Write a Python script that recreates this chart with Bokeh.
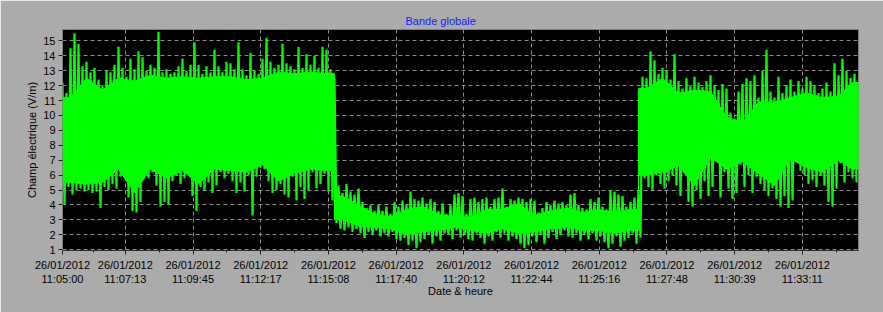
import numpy as np
from bokeh.plotting import figure
from bokeh.models import Range1d, FixedTicker
from bokeh.embed import file_html
from bokeh.resources import INLINE

title_text = "Bande globale"
x_label = "Date & heure"
y_label = "Champ électrique (V/m)"

tick_date = "26/01/2012"
tick_times = ["11:05:00", "11:07:13", "11:09:45", "11:12:17", "11:15:08", "11:17:40",
              "11:20:12", "11:22:44", "11:25:16", "11:27:48", "11:30:39", "11:33:11"]
tick_samples = [0, 141, 293, 445, 597, 749, 901, 1053, 1205, 1357, 1509, 1661]
minor_samples = [70, 217, 369, 521, 673, 825, 977, 1129, 1281, 1433, 1585, 1737]
n_samples = 1787
y_ticks = list(range(1, 16))

# upper and lower excursions of the field, one pair per block of 9 samples
field_hi = [
    12.2, 11.5, 14.5, 15.5, 14.8, 13.3, 13.6, 12.9, 13.2, 12.4,
    12.0, 13.0, 12.9, 13.4, 14.6, 13.2, 12.6, 13.8, 13.1, 14.3,
    13.9, 13.0, 13.4, 13.2, 15.6, 12.9, 13.1, 12.8, 12.9, 13.3,
    13.8, 13.0, 13.4, 14.9, 13.4, 12.8, 13.3, 12.9, 14.4, 13.3,
    12.9, 13.6, 13.5, 13.1, 14.9, 13.1, 12.7, 14.2, 13.0, 12.8,
    13.8, 15.2, 13.6, 13.2, 13.4, 14.8, 13.5, 13.3, 13.1, 14.6,
    13.2, 14.1, 13.4, 14.0, 13.2, 14.6, 14.4, 13.1, 12.5, 5.3,
    4.8, 5.4, 4.9, 4.7, 5.1, 4.2, 3.8, 4.0, 3.6, 4.0,
    3.6, 3.9, 3.4, 4.2, 3.9, 4.3, 4.0, 4.9, 4.4, 4.3,
    4.5, 4.1, 4.4, 4.2, 3.6, 4.1, 3.4, 4.0, 4.7, 4.8,
    4.6, 3.4, 4.4, 4.5, 4.2, 4.4, 4.5, 3.9, 4.4, 4.5,
    5.1, 3.9, 4.4, 4.3, 4.5, 4.4, 4.2, 4.4, 4.3, 3.5,
    3.8, 4.2, 4.0, 4.3, 4.1, 4.2, 4.0, 4.7, 4.8, 4.0,
    3.8, 3.7, 4.4, 4.2, 4.5, 3.9, 3.7, 5.0, 4.9, 4.7,
    4.6, 3.9, 4.2, 4.5, 5.0, 12.6, 12.5, 14.3, 13.7, 12.8,
    13.2, 13.0, 12.4, 14.1, 12.3, 11.8, 12.5, 12.0, 12.6, 12.2,
    11.9, 12.3, 12.7, 12.0, 11.7, 12.1, 11.8, 10.2, 9.8, 11.6,
    12.1, 12.5, 12.3, 12.7, 11.2, 13.0, 14.4, 11.6, 11.2, 12.6,
    11.5, 12.0, 12.4, 11.6, 12.3, 11.8, 12.6, 12.3, 12.0, 11.5,
    11.8, 12.2, 11.6, 13.5, 12.7, 13.8, 13.0, 12.5, 12.8,
]
field_lo = [
    4.0, 5.2, 4.7, 5.0, 5.1, 4.9, 5.0, 4.8, 4.9, 3.8,
    5.2, 5.0, 5.4, 5.1, 5.9, 6.2, 4.5, 3.6, 3.5, 4.2,
    6.1, 5.8, 6.2, 5.3, 3.9, 4.2, 4.0, 5.6, 6.0, 5.4,
    5.8, 6.1, 4.6, 3.6, 5.2, 5.0, 5.5, 4.8, 5.3, 6.2,
    5.8, 6.1, 5.6, 4.8, 5.5, 4.9, 6.0, 3.3, 5.9, 6.5,
    6.4, 5.6, 4.8, 5.0, 5.4, 4.7, 4.5, 5.9, 4.3, 5.2,
    4.4, 5.0, 6.2, 5.1, 5.4, 6.1, 4.9, 4.3, 2.8, 2.4,
    2.3, 2.5, 2.2, 2.4, 2.1, 1.8, 2.2, 2.0, 2.3, 1.9,
    2.1, 1.9, 2.2, 1.7, 1.6, 1.8, 1.3, 1.6, 1.1, 1.5,
    1.7, 2.0, 1.4, 1.9, 1.6, 2.1, 2.0, 1.7, 2.3, 1.8,
    2.0, 1.7, 1.6, 2.1, 1.8, 1.4, 1.9, 1.6, 2.2, 1.8,
    2.1, 1.6, 1.9, 1.7, 1.4, 1.1, 1.3, 1.9, 1.5, 2.0,
    1.4, 1.8, 2.2, 1.7, 2.0, 2.3, 1.9, 1.8, 2.1, 1.6,
    2.0, 1.7, 2.1, 1.6, 1.9, 1.5, 1.1, 1.4, 1.9, 1.2,
    1.6, 1.8, 2.1, 1.4, 1.8, 5.8, 5.2, 5.0, 6.0, 5.4,
    5.1, 5.6, 6.0, 5.3, 4.6, 6.4, 4.2, 3.9, 5.0, 4.4,
    5.6, 4.6, 5.2, 7.0, 4.5, 6.2, 5.1, 4.4, 4.8, 6.7,
    5.2, 6.0, 4.8, 5.9, 5.4, 5.0, 4.6, 5.1, 4.4, 3.9,
    4.6, 3.8, 4.3, 6.9, 6.3, 6.0, 5.4, 5.7, 5.2, 6.0,
    5.3, 4.2, 3.9, 5.1, 6.8, 5.5, 6.2, 5.8, 5.5,
]
# dense (solid) part of the trace, one level per group of 4 blocks
dense_top = [
    11.2, 12.5, 11.7, 12.5, 12.3, 12.7, 12.5, 12.6, 12.5, 12.6,
    12.6, 12.4, 12.5, 12.9, 12.8, 12.9, 12.8, 4.6, 4.0, 3.4,
    3.2, 3.7, 3.9, 3.4, 3.2, 3.2, 3.7, 3.7, 4.1, 3.3,
    3.6, 3.8, 3.5, 3.7, 3.5, 3.7, 11.8, 12.5, 11.5, 11.7,
    11.6, 9.9, 9.5, 10.9, 10.9, 11.2, 11.5, 11.2, 11.3, 12.2,
]
dense_bot = [
    5.5, 5.4, 5.5, 6.4, 4.8, 6.4, 5.8, 6.3, 5.4, 6.4,
    6.3, 6.2, 6.7, 5.6, 6.1, 6.4, 6.3, 3.0, 2.6, 2.5,
    2.4, 2.0, 2.2, 2.3, 2.5, 2.3, 2.1, 2.4, 2.1, 2.2,
    2.4, 2.5, 2.3, 2.3, 2.1, 2.3, 6.0, 6.2, 6.6, 5.3,
    7.2, 6.4, 6.9, 6.1, 5.3, 7.1, 6.5, 6.2, 7.0, 6.4,
]

n_blocks = len(field_hi)
blk = n_samples / n_blocks            # samples per block
x_hi = np.arange(n_blocks) * blk
x_lo = x_hi + blk / 2
zig_x = np.empty(2 * n_blocks)
zig_x[0::2] = x_hi
zig_x[1::2] = x_lo
zig_y = np.empty(2 * n_blocks)
zig_y[0::2] = field_hi
zig_y[1::2] = field_lo

# dense core outline: through group centres, with a sharp step where the level jumps
n_groups = len(dense_top)
g_start = np.arange(n_groups) * 4 * blk
g_end = np.minimum(g_start + 4 * blk, n_samples)
g_mid = (g_start + g_end) / 2
cx, ct, cb = [0.0], [dense_top[0]], [dense_bot[0]]
for k in range(n_groups):
    if k > 0 and abs(dense_top[k] - dense_top[k - 1]) > 4:
        cx += [g_start[k], g_start[k]]
        ct += [dense_top[k - 1], dense_top[k]]
        cb += [dense_bot[k - 1], dense_bot[k]]
    cx.append(g_mid[k]); ct.append(dense_top[k]); cb.append(dense_bot[k])
cx.append(float(n_samples)); ct.append(dense_top[-1]); cb.append(dense_bot[-1])
core_x = cx + cx[::-1]
core_y = ct + cb[::-1]

p = figure(width=883, height=312, output_backend="svg", toolbar_location=None,
           x_range=Range1d(0, n_samples), y_range=Range1d(0.95, 15.76),
           min_border_left=62, min_border_right=25, min_border_top=29, min_border_bottom=62)

p.background_fill_color = "black"
p.border_fill_color = "#ababab"
p.outline_line_color = "#808080"

p.title.text = title_text
p.title.text_color = "#2020ff"
p.title.text_font = "Liberation Sans"
p.title.text_font_size = "11px"
p.title.text_font_style = "normal"
p.title.align = "left"
p.title.offset = 343
p.title.standoff = 5

p.patch(core_x, core_y, fill_color="#00ff00", line_color="#00ff00", line_width=1)
p.line(zig_x, zig_y, line_color="#00ff00", line_width=2.2)

p.xaxis.ticker = FixedTicker(ticks=tick_samples, minor_ticks=minor_samples)
p.xaxis.major_label_overrides = {s: f"{tick_date}\n{t}" for s, t in zip(tick_samples, tick_times)}
p.yaxis.ticker = FixedTicker(ticks=y_ticks)
p.xaxis.axis_label = x_label
p.yaxis.axis_label = y_label

for ax in (p.xaxis[0], p.yaxis[0]):
    ax.major_label_text_font = "Liberation Sans"
    ax.major_label_text_font_size = "11px"
    ax.major_label_text_color = "black"
    ax.axis_label_text_font = "Liberation Sans"
    ax.axis_label_text_font_size = "11px"
    ax.axis_label_text_font_style = "normal"
    ax.axis_label_text_color = "black"
    ax.major_tick_in = 0
    ax.major_tick_out = 4
    ax.minor_tick_in = 0
    ax.minor_tick_out = 2
    ax.major_tick_line_color = "#202020"
    ax.minor_tick_line_color = "#202020"

p.xaxis.axis_line_color = "#303030"
p.yaxis.axis_line_color = "#808080"
p.yaxis.axis_line_dash = "3 2"
p.yaxis.minor_tick_line_color = None
p.xaxis.major_label_standoff = 4
p.yaxis.major_label_standoff = 3
p.xaxis.axis_label_standoff = -3
p.yaxis.axis_label_standoff = 2

p.xgrid.ticker = FixedTicker(ticks=tick_samples)
p.ygrid.ticker = FixedTicker(ticks=y_ticks)
for g in (p.xgrid[0], p.ygrid[0]):
    g.grid_line_color = "#8c8c8c"
    g.grid_line_dash = "4 3"
    g.grid_line_width = 1

open("out.html", "w").write(file_html(p, INLINE))
